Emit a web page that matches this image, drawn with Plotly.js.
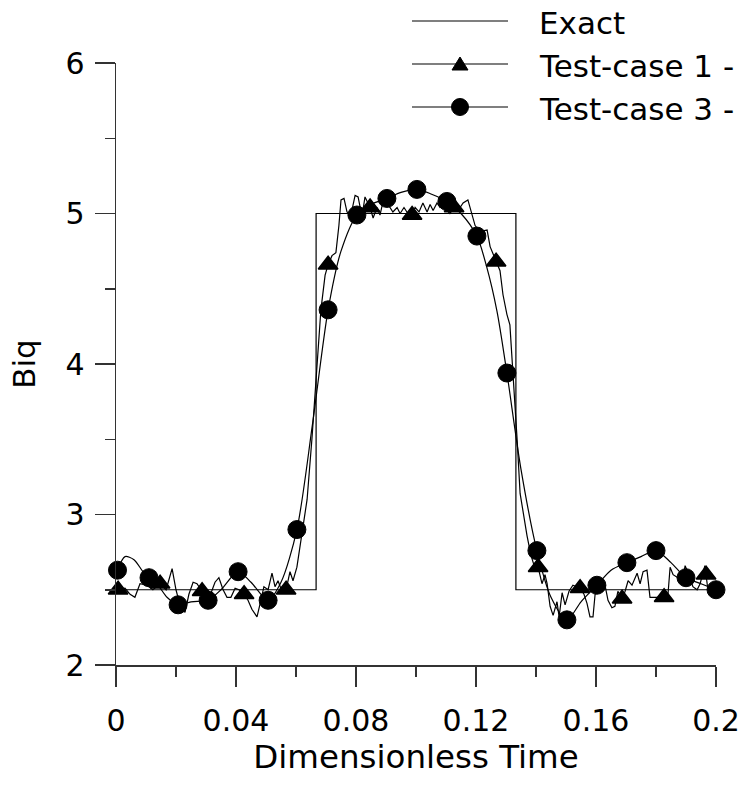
<!DOCTYPE html>
<html>
<head>
<meta charset="utf-8">
<script src="https://cdn.plot.ly/plotly-3.0.1.min.js"></script>
<style>
html,body{margin:0;padding:0;background:#fff;}
#chart{width:743px;height:790px;}
</style>
</head>
<body>
<div id="chart"></div>
<script>
// ---------- data ----------
var xTickVals = [0, 0.04, 0.08, 0.12, 0.16, 0.2];
var xTickText = ['0', '0.04', '0.08', '0.12', '0.16', '0.2'];
var xMinorVals = [0.02, 0.06, 0.10, 0.14, 0.18];
var yTickVals = [2, 3, 4, 5, 6];
var yTickText = ['2', '3', '4', '5', '6'];
var yMinorVals = [2.5, 3.5, 4.5, 5.5];

var seriesNames = ['Exact', 'Test-case 1 -', 'Test-case 3 -'];

var exactX = [0, 0.0667, 0.0667, 0.1333, 0.1333, 0.2];
var exactY = [2.5, 2.5, 5, 5, 2.5, 2.5];

var test1X = [0.0003,0.003,0.0047,0.0063,0.008,0.0103,0.0123,0.0147,0.0167,0.0187,0.020,0.0213,0.023,0.0243,0.0257,0.027,0.0287,0.0303,0.0317,0.033,0.0343,0.0357,0.037,0.0383,0.0397,0.041,0.0427,0.044,0.0453,0.047,0.0483,0.0493,0.0507,0.052,0.053,0.054,0.0553,0.0567,0.058,0.059,0.0603,0.062,0.0637,0.0653,0.067,0.0683,0.0697,0.0707,0.072,0.0733,0.0743,0.075,0.076,0.077,0.0783,0.0797,0.0807,0.082,0.083,0.0847,0.0857,0.087,0.088,0.0897,0.0907,0.0923,0.0937,0.0947,0.096,0.0973,0.0987,0.0997,0.101,0.1023,0.1037,0.1047,0.1057,0.107,0.108,0.1093,0.1103,0.1113,0.1127,0.1137,0.1147,0.1157,0.1173,0.1187,0.1197,0.1213,0.1237,0.1247,0.1267,0.128,0.129,0.1303,0.1313,0.132,0.1327,0.1337,0.1347,0.1357,0.137,0.1383,0.1397,0.1407,0.142,0.143,0.1437,0.1447,0.1457,0.147,0.1477,0.1487,0.1497,0.151,0.1523,0.1547,0.156,0.157,0.158,0.159,0.1597,0.1613,0.163,0.164,0.1653,0.1663,0.1673,0.1687,0.1697,0.1707,0.172,0.1737,0.1747,0.1757,0.177,0.178,0.1797,0.1813,0.1827,0.184,0.1847,0.1857,0.1873,0.1887,0.1897,0.191,0.1923,0.1937,0.1947,0.1963,0.1973,0.1987,0.2];
var test1Y = [2.50,2.51,2.47,2.45,2.54,2.53,2.50,2.54,2.50,2.64,2.50,2.40,2.35,2.47,2.55,2.54,2.49,2.46,2.48,2.55,2.58,2.50,2.45,2.45,2.51,2.50,2.47,2.43,2.37,2.32,2.43,2.52,2.50,2.61,2.52,2.56,2.49,2.50,2.62,2.56,2.65,2.88,3.10,3.50,3.96,4.36,4.59,4.66,4.72,4.74,4.92,5.09,5.10,5.01,4.99,5.12,5.11,4.98,5.11,5.04,4.97,5.04,4.99,5.14,5.06,5.01,5.04,5.00,5.04,5.00,4.99,5.04,5.01,5.07,5.01,5.06,5.02,5.07,5.04,5.06,5.02,5.00,5.04,5.02,5.04,5.07,5.09,4.99,4.92,4.88,4.89,4.78,4.68,4.62,4.46,4.33,4.26,4.05,3.86,3.50,3.14,3.01,2.86,2.73,2.64,2.65,2.54,2.60,2.54,2.39,2.33,2.42,2.32,2.48,2.40,2.49,2.53,2.51,2.47,2.41,2.32,2.32,2.47,2.50,2.53,2.43,2.38,2.39,2.49,2.44,2.49,2.56,2.53,2.61,2.54,2.62,2.63,2.45,2.45,2.45,2.45,2.47,2.65,2.60,2.58,2.54,2.66,2.60,2.52,2.50,2.54,2.66,2.50,2.50,2.50];

var triX = [0.0007,0.0147,0.0287,0.0427,0.0567,0.0707,0.0847,0.0987,0.1127,0.1267,0.1407,0.1547,0.1687,0.1827,0.1967];
var triY = [2.50,2.54,2.49,2.47,2.50,4.66,5.04,4.99,5.04,4.68,2.65,2.51,2.44,2.45,2.60];

var test3X = [0.0005,0.003,0.006,0.009,0.011,0.014,0.017,0.0207,0.025,0.0307,0.035,0.0407,0.045,0.0507,0.055,0.0603,0.0655,0.0707,0.075,0.0803,0.085,0.0903,0.095,0.1003,0.105,0.1103,0.115,0.1203,0.1235,0.127,0.1303,0.135,0.1403,0.145,0.1503,0.155,0.1603,0.165,0.1703,0.175,0.180,0.185,0.190,0.195,0.200];
var test3Y = [2.63,2.72,2.70,2.62,2.58,2.53,2.45,2.40,2.42,2.43,2.50,2.62,2.55,2.43,2.55,2.90,3.60,4.36,4.75,4.99,5.06,5.10,5.14,5.16,5.13,5.08,5.00,4.85,4.65,4.35,3.94,3.30,2.76,2.45,2.30,2.42,2.53,2.63,2.68,2.72,2.76,2.68,2.58,2.54,2.50];

var circX = [0.0005,0.011,0.0207,0.0307,0.0407,0.0507,0.0603,0.0707,0.0803,0.0903,0.1003,0.1103,0.1203,0.1303,0.1403,0.1503,0.1603,0.1703,0.180,0.190,0.200];
var circY = [2.63,2.58,2.40,2.43,2.62,2.43,2.90,4.36,4.99,5.10,5.16,5.08,4.85,3.94,2.76,2.30,2.53,2.68,2.76,2.58,2.50];

// ---------- layout constants ----------
var W = 743, H = 790;
var M = {l: 116, r: 27, t: 63, b: 125};
var plotW = W - M.l - M.r, plotH = H - M.t - M.b;
function px2paperX(px) { return (px - M.l) / plotW; }
function px2paperY(py) { return (H - M.b - py) / plotH; }

var FONT = 'DejaVu Sans, Liberation Sans, Arial, sans-serif';
var INK = '#000000';

var traces = [
  {x: exactX, y: exactY, type: 'scatter', mode: 'lines', name: seriesNames[0],
   line: {color: INK, width: 1.2}, showlegend: false, hoverinfo: 'skip'},
  {x: test1X, y: test1Y, type: 'scatter', mode: 'lines', name: seriesNames[1],
   line: {color: INK, width: 1.2}, showlegend: false, hoverinfo: 'skip'},
  {x: triX, y: triY, type: 'scatter', mode: 'markers', name: seriesNames[1],
   marker: {symbol: 'triangle-up', size: 17, color: INK, line: {color: INK, width: 1.5}},
   cliponaxis: false, showlegend: false},
  {x: test3X, y: test3Y, type: 'scatter', mode: 'lines', name: seriesNames[2],
   line: {color: INK, width: 1.2, shape: 'spline', smoothing: 0.8}, showlegend: false, hoverinfo: 'skip'},
  {x: circX, y: circY, type: 'scatter', mode: 'markers', name: seriesNames[2],
   marker: {symbol: 'circle', size: 18, color: INK, line: {color: INK, width: 1}},
   cliponaxis: false, showlegend: false}
];

// ---------- manual legend (long sample lines, as in the original) ----------
var legRows = [21, 64, 107];
var legX0 = 412, legX1 = 508, legMid = 460, legTextX = 537;
var shapes = [];
var annotations = [];
legRows.forEach(function (py, i) {
  shapes.push({type: 'line', xref: 'paper', yref: 'paper',
    x0: px2paperX(legX0), x1: px2paperX(legX1), y0: px2paperY(py), y1: px2paperY(py),
    line: {color: INK, width: 1.2}});
  annotations.push({xref: 'paper', yref: 'paper', x: px2paperX(legTextX), y: px2paperY(py + 2),
    xanchor: 'left', yanchor: 'middle', text: seriesNames[i], showarrow: false,
    font: {family: FONT, size: 31, color: INK}});
});
(function () {
  var cx = legMid, cy = legRows[1];
  var p = 'M' + px2paperX(cx - 8) + ',' + px2paperY(cy + 6) +
          ' L' + px2paperX(cx + 8) + ',' + px2paperY(cy + 6) +
          ' L' + px2paperX(cx) + ',' + px2paperY(cy - 7) + ' Z';
  shapes.push({type: 'path', xref: 'paper', yref: 'paper', path: p,
    fillcolor: INK, line: {color: INK, width: 1}});
  var cy3 = legRows[2], r = 8.5;
  shapes.push({type: 'circle', xref: 'paper', yref: 'paper',
    x0: px2paperX(legMid - r), x1: px2paperX(legMid + r),
    y0: px2paperY(cy3 + r), y1: px2paperY(cy3 - r),
    fillcolor: INK, line: {color: INK, width: 1}});
})();

var axisCommon = {
  showgrid: false, zeroline: false, showline: true, linecolor: '#333333', linewidth: 1.5,
  ticks: 'outside', ticklen: 20, tickwidth: 1.5, tickcolor: '#333333',
  tickfont: {family: FONT, size: 30, color: INK}, fixedrange: true
};

var layout = {
  width: W, height: H,
  margin: M,
  paper_bgcolor: '#ffffff', plot_bgcolor: '#ffffff',
  showlegend: false,
  font: {family: FONT, color: INK},
  xaxis: Object.assign({}, axisCommon, {
    range: [0, 0.2], tickmode: 'array', tickvals: xTickVals, ticktext: xTickText,
    minor: {tickmode: 'array', tickvals: xMinorVals, ticks: 'outside', ticklen: 10, tickwidth: 1.5, tickcolor: '#333333'},
    ticklabelstandoff: 8,
    title: {text: 'Dimensionless Time', font: {family: FONT, size: 32.5, color: INK}, standoff: 3}
  }),
  yaxis: Object.assign({}, axisCommon, {
    range: [2, 6], tickmode: 'array', tickvals: yTickVals, ticktext: yTickText,
    minor: {tickmode: 'array', tickvals: yMinorVals, ticks: 'outside', ticklen: 10, tickwidth: 1.5, tickcolor: '#333333'},
    ticklabelstandoff: 4,
    title: {text: 'Biq', font: {family: FONT, size: 31, color: INK}, standoff: 20}
  }),
  shapes: shapes,
  annotations: annotations
};

Plotly.newPlot('chart', traces, layout, {displayModeBar: false, staticPlot: true});
</script>
</body>
</html>
